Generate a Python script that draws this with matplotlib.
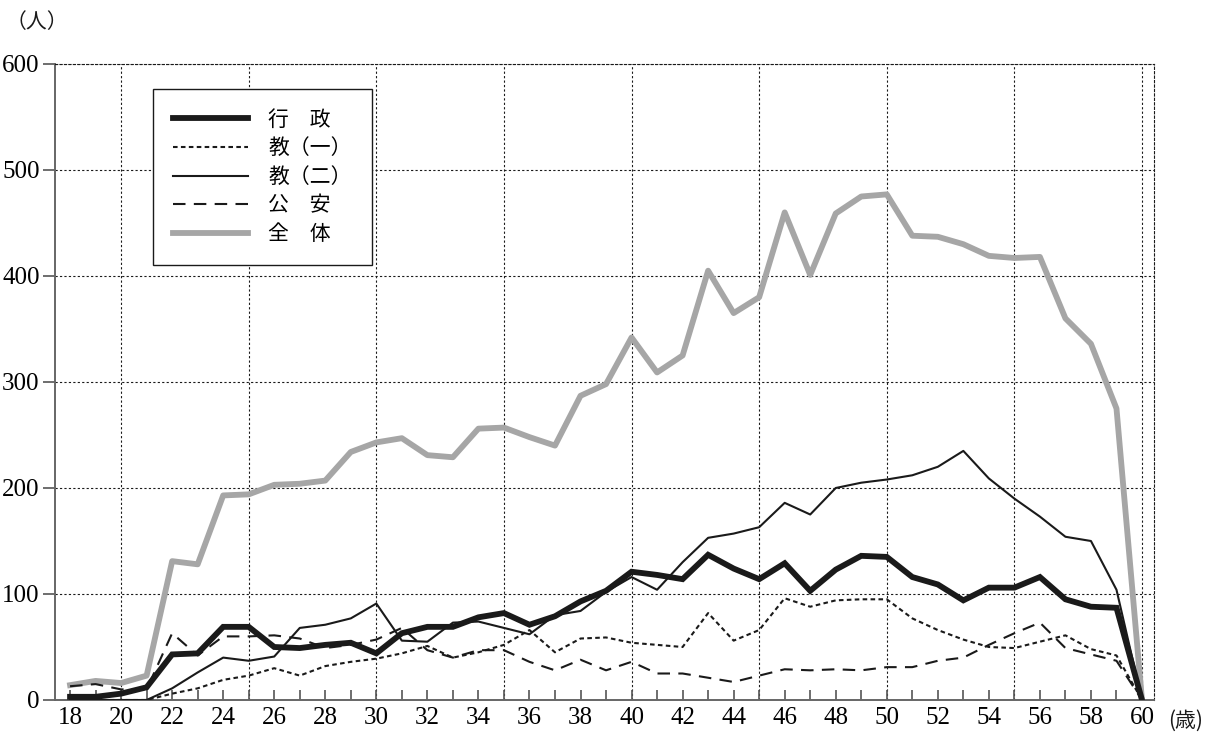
'''
Age distribution of staff by category (行政 / 教(一) / 教(二) / 公安 / 全体).
'''

import matplotlib
matplotlib.use('Agg')
import matplotlib.pyplot as plt
from matplotlib.ticker import MultipleLocator

plt.rcParams['font.family'] = ['Liberation Serif', 'Noto Sans CJK JP']
CJK = ['Noto Sans CJK JP', 'DejaVu Sans']

# ages 18..60
ages = list(range(18, 61))

gyosei = [3, 3, 6, 12, 43, 44, 69, 69, 50, 49, 52, 54, 44, 63, 69, 69,
          78, 82, 71, 79, 93, 103, 121, 118, 114, 137, 124, 114, 129, 103,
          123, 136, 135, 116, 109, 94, 106, 106, 116, 95, 88, 87, 0]
kyo1 = [0, 0, 0, 0, 6, 11, 19, 23, 30, 23, 32, 36, 39, 44, 51, 40,
        45, 52, 66, 45, 58, 59, 54, 52, 50, 82, 56, 66, 96, 88,
        94, 95, 95, 77, 66, 57, 50, 49, 55, 61, 48, 42, 0]
kyo2 = [0, 0, 0, 0, 11, 26, 40, 37, 41, 68, 71, 77, 91, 56, 55, 73,
        74, 68, 62, 80, 84, 102, 116, 104, 130, 153, 157, 163, 186, 175,
        200, 205, 208, 212, 220, 235, 209, 190, 173, 154, 150, 104, 0]
koan = [13, 15, 10, 10, 63, 42, 60, 60, 61, 58, 49, 52, 57, 68, 47, 40,
        47, 47, 36, 28, 38, 28, 36, 25, 25, 21, 17, 23, 29, 28,
        29, 28, 31, 31, 37, 40, 52, 63, 73, 49, 43, 37, 0]
zentai = [14, 18, 16, 23, 131, 128, 193, 194, 203, 204, 207, 234, 243, 247,
          231, 229, 256, 257, 248, 240, 287, 298, 342, 309, 325, 405, 365,
          380, 460, 401, 459, 475, 477, 438, 437, 430, 419, 417, 418, 360,
          336, 275, 0]

labels = ['行\u3000政', '教（一）', '教（二）', '公\u3000安', '全\u3000体']

fig = plt.figure(figsize=(12.13, 7.35), dpi=100)
ax = fig.add_axes([55 / 1213, 35 / 735, 1099 / 1213, 636 / 735])

ink = '#1a1a1a'
ax.plot(ages, gyosei, color=ink, lw=4.2, solid_joinstyle='miter', label=labels[0], zorder=5)
ax.plot(ages, kyo1, color=ink, lw=1.5, dashes=(2.2, 1.6), label=labels[1], zorder=4)
ax.plot(ages, kyo2, color=ink, lw=1.5, label=labels[2], zorder=4)
ax.plot(ages, koan, color=ink, lw=1.5, dashes=(6, 4), label=labels[3], zorder=4)
ax.plot(ages, zentai, color='#a6a6a6', lw=4.2, label=labels[4], zorder=3)

ax.set_xlim(17.41, 60.47)
ax.set_ylim(0, 600)

# grid
for v in range(20, 61, 5):
  ax.axvline(v, color=ink, lw=0.8, ls=(0, (2, 2)), zorder=1)
for v in range(100, 601, 100):
  ax.axhline(v, color=ink, lw=0.8, ls=(0, (2, 2)), zorder=1)

for s in ['top', 'right']:
  ax.spines[s].set_linestyle((0, (2, 2)))
  ax.spines[s].set_linewidth(0.8)
  ax.spines[s].set_color(ink)
for s in ['left', 'bottom']:
  ax.spines[s].set_color('#666666')
  ax.spines[s].set_linewidth(1.4)

ax.xaxis.set_major_locator(MultipleLocator(2))
ax.xaxis.set_minor_locator(MultipleLocator(1))
ax.set_xticks(range(18, 61, 2))
ax.tick_params(axis='x', which='both', direction='in', length=7, width=1.2,
               color='#555555', labelsize=18, pad=5)
ax.set_yticks(range(0, 601, 100))
ax.tick_params(axis='y', direction='out', length=9, width=1.2,
               color='#555555', labelsize=18, pad=2)

fig.text(6 / 1213, 1 - 22 / 735, '（人）', family=CJK, fontsize=15,
         va='center', ha='left', color=ink)
fig.text(1168 / 1213, 1 - 721 / 735, '(歳)', family=CJK, fontsize=15,
         va='center', ha='left', color=ink)

leg = ax.legend(loc='upper left', bbox_to_anchor=(0.089, 0.961), borderaxespad=0,
                prop={'family': CJK, 'size': 15}, handlelength=3.6,
                handletextpad=1.0, labelspacing=0.32, borderpad=0.95,
                fancybox=False, framealpha=1, edgecolor=ink)
leg.get_frame().set_linewidth(1.0)

fig.savefig('out.png', dpi=100)
